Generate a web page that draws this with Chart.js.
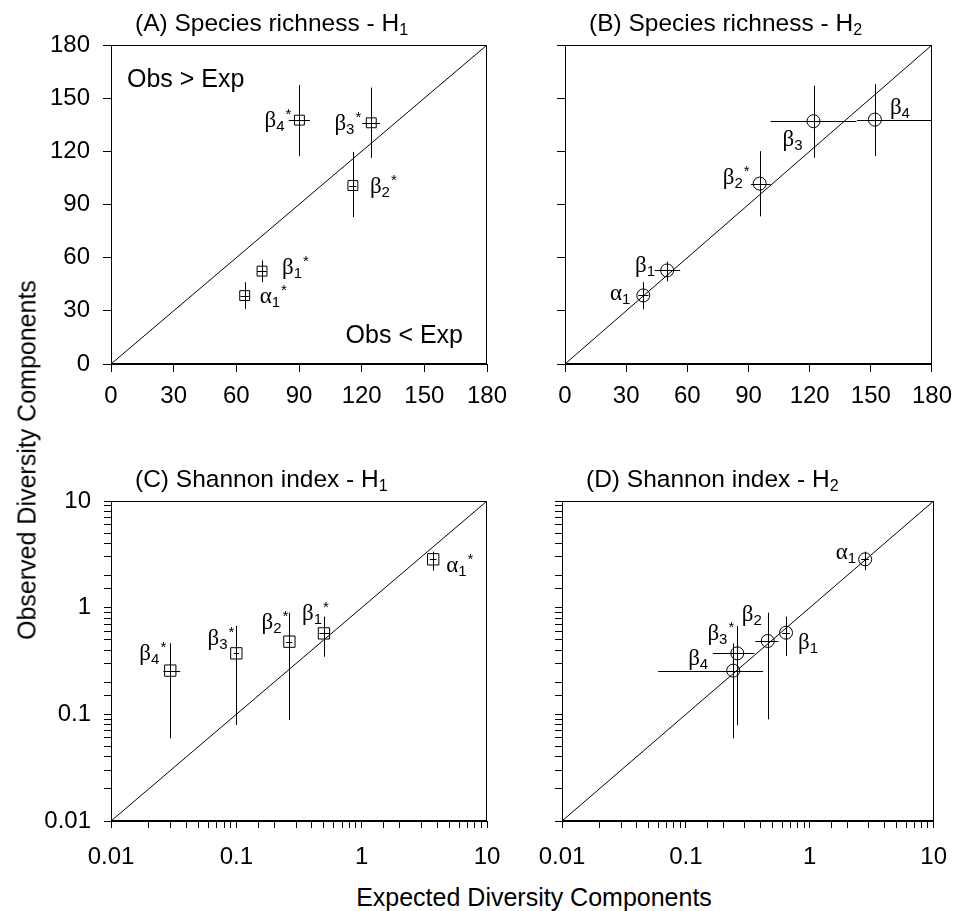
<!DOCTYPE html>
<html>
<head>
<meta charset="utf-8">
<script src="https://cdn.jsdelivr.net/npm/chart.js@4.4.1/dist/chart.umd.min.js"></script>
<style>
  body { margin: 0; background: #fff; }
  #page { position: relative; width: 962px; height: 911px; font-family: "Liberation Sans", Arial, sans-serif; color: #000; }
  canvas { position: absolute; }
  .axis-title { position: absolute; font-size: 25px; white-space: nowrap; }
  #ytitle { left: 27px; top: 460px; transform: translate(-50%, -50%) rotate(-90deg); }
  #xtitle { left: 534px; top: 897px; transform: translate(-50%, -50%); }
</style>
</head>
<body>
<div id="page">
  <canvas id="chartA" width="520" height="420" style="left:0;top:0"></canvas>
  <canvas id="chartB" width="482" height="420" style="left:480px;top:0"></canvas>
  <canvas id="chartC" width="520" height="460" style="left:0;top:420px"></canvas>
  <canvas id="chartD" width="482" height="460" style="left:480px;top:420px"></canvas>
  <div id="ytitle" class="axis-title">Observed Diversity Components</div>
  <div id="xtitle" class="axis-title">Expected Diversity Components</div>
</div>
<script>
// rótulos dos componentes (mesma ordem em todos os painéis)
const tagsA = ['α1*', 'β1*', 'β2*', 'β3*', 'β4*'];
const tagsB = ['α1', 'β1', 'β2*', 'β3', 'β4'];
const tagsC = ['α1*', 'β1*', 'β2*', 'β3*', 'β4*'];
const tagsD = ['α1', 'β1', 'β2', 'β3*', 'β4'];

// (A) riqueza de espécies - H1
const expA = [64, 72.3, 115.8, 124.6, 90.2];
const obsA = [38.6, 52.4, 100.7, 136.1, 137.6];
const expLoA = [62, 70, 114, 120.3, 85.1];
const expHiA = [66, 74.5, 117.5, 128.8, 95.2];
const obsLoA = [31.1, 46.2, 82.9, 116.3, 117.2];
const obsHiA = [46.2, 58.4, 119.7, 156, 157.4];

// (B) riqueza de espécies - H2
const expB = [38.4, 50.1, 95.5, 121.9, 152];
const obsB = [38.7, 52.8, 101.8, 137, 137.9];
const expLoB = [36, 44, 91.2, 100.8, 143.2];
const expHiB = [41, 56.5, 100.8, 142.9, 185];
const obsLoB = [30.9, 46.6, 83.3, 116.4, 117.3];
const obsHiB = [46.2, 57.8, 120.1, 157, 157.9];

// (C) índice de Shannon - H1
const expC = [3.72, 0.5, 0.265, 0.1, 0.0297];
const obsC = [2.84, 0.574, 0.48, 0.373, 0.257];
const expLoC = [3.5, 0.46, 0.25, 0.095, 0.0262];
const expHiC = [3.95, 0.56, 0.28, 0.105, 0.0356];
const obsLoC = [2.22, 0.347, 0.0885, 0.0794, 0.0596];
const obsHiC = [3.35, 0.824, 0.898, 0.673, 0.463];

// (D) índice de Shannon - H2
const expD = [2.8, 0.643, 0.458, 0.26, 0.241];
const obsD = [2.84, 0.583, 0.487, 0.373, 0.257];
const expLoD = [2.6, 0.6, 0.364, 0.165, 0.0597];
const expHiD = [3.0, 0.69, 0.556, 0.357, 0.42];
const obsLoD = [2.25, 0.352, 0.0898, 0.079, 0.0596];
const obsHiD = [3.35, 0.824, 0.898, 0.673, 0.463];

// linha 1:1
const diagLinear = [0, 180];
const diagLog = [0.01, 10];
const linearTicks = [0, 30, 60, 90, 120, 150, 180];

Chart.defaults.font.family = '"Liberation Sans", Arial, sans-serif';
Chart.defaults.font.size = 24;
Chart.defaults.color = '#000';

const SERIF = '"Liberation Serif", "DejaVu Serif", serif';
const SANS = '"Liberation Sans", Arial, sans-serif';

// desenha "β4*" com índice e asterisco
function drawTag(ctx, txt, x, y, align) {
  const base = txt[0];
  const sub = txt.replace(/[^0-9]/g, '');
  const star = txt.includes('*') ? '*' : '';
  ctx.font = '23px ' + SERIF;
  const wb = ctx.measureText(base).width;
  ctx.font = '15px ' + SANS;
  const ws = ctx.measureText(sub).width;
  const wst = ctx.measureText(star).width;
  const x0 = align === 'right' ? x - (wb + ws + wst) : x;
  ctx.textAlign = 'left';
  ctx.textBaseline = 'alphabetic';
  ctx.font = '23px ' + SERIF;
  ctx.fillText(base, x0, y + 7);
  ctx.font = '15px ' + SANS;
  ctx.fillText(sub, x0 + wb, y + 11);
  ctx.fillText(star, x0 + wb + ws + 1, y - 1);
}

function decadeLabel(v) {
  const l = Math.log10(v);
  return Math.abs(l - Math.round(l)) < 1e-9 ? String(v) : '';
}

function makePanel(id, cfg) {
  const isLog = cfg.log;
  const diag = isLog ? diagLog : diagLinear;

  const extras = {
    id: 'extras',
    beforeDatasetsDraw(chart) {
      const { ctx, chartArea: a, scales: { x, y } } = chart;
      ctx.save();
      ctx.beginPath();
      ctx.rect(a.left, a.top, a.width, a.height);
      ctx.clip();
      ctx.strokeStyle = '#000';
      ctx.lineWidth = 1;
      cfg.x.forEach((xv, i) => {
        const px = Math.round(x.getPixelForValue(xv)) + 0.5;
        const py = Math.round(y.getPixelForValue(cfg.y[i])) + 0.5;
        ctx.beginPath();
        ctx.moveTo(px, y.getPixelForValue(cfg.yLo[i]));
        ctx.lineTo(px, y.getPixelForValue(cfg.yHi[i]));
        ctx.moveTo(x.getPixelForValue(cfg.xLo[i]), py);
        ctx.lineTo(x.getPixelForValue(cfg.xHi[i]), py);
        ctx.stroke();
      });
      ctx.restore();
    },
    afterDraw(chart) {
      const { ctx, chartArea: a, scales: { x, y } } = chart;
      ctx.save();
      ctx.strokeStyle = '#000';
      ctx.lineWidth = 1;
      ctx.strokeRect(Math.round(a.left) + 0.5, Math.round(a.top) + 0.5,
        Math.round(a.width) - 1, Math.round(a.height) - 1);
      ctx.fillStyle = '#000';

      // título com subscrito
      ctx.font = '24.5px ' + SANS;
      ctx.textBaseline = 'alphabetic';
      ctx.textAlign = 'left';
      const tx = a.left + 24, ty = a.top - 14;
      ctx.fillText(cfg.title, tx, ty);
      const tw = ctx.measureText(cfg.title).width;
      ctx.font = '16px ' + SANS;
      ctx.fillText(cfg.titleSub, tx + tw, ty + 4);

      // rótulos dos pontos
      cfg.tags.forEach((t, i) => {
        const px = x.getPixelForValue(cfg.x[i]);
        const py = y.getPixelForValue(cfg.y[i]);
        const p = cfg.tagPos[i];
        drawTag(ctx, t, px + p[0], py + p[1], p[2]);
      });

      if (cfg.notes) {
        ctx.font = '25px ' + SANS;
        ctx.textBaseline = 'middle';
        ctx.textAlign = 'left';
        ctx.fillText('Obs > Exp', a.left + 16, a.top + 35);
        ctx.textAlign = 'right';
        ctx.fillText('Obs < Exp', a.right - 24, a.bottom - 28);
      }
      ctx.restore();
    }
  };

  const axisBase = (min, max) => ({
    type: isLog ? 'logarithmic' : 'linear',
    min, max,
    grid: { drawOnChartArea: false, drawTicks: true, tickLength: isLog ? 7 : 8, color: '#000', tickColor: '#000' },
    border: { display: true, color: '#000', width: 1 }
  });

  const xAxis = axisBase(diag[0], diag[1]);
  const yAxis = axisBase(diag[0], diag[1]);
  const tickOpts = isLog
    ? { autoSkip: false, maxRotation: 0, callback: decadeLabel }
    : { autoSkip: false, maxRotation: 0, stepSize: 30 };
  if (!isLog) {
    xAxis.afterBuildTicks = s => { s.ticks = linearTicks.map(v => ({ value: v })); };
    yAxis.afterBuildTicks = s => { s.ticks = linearTicks.map(v => ({ value: v })); };
  }
  xAxis.ticks = Object.assign({ padding: cfg.xPad }, tickOpts);
  yAxis.ticks = Object.assign({ padding: 13, display: cfg.yLabels }, tickOpts);
  xAxis.afterFit = s => { s.height = cfg.xh; };
  yAxis.afterFit = s => { s.width = cfg.yw; };

  new Chart(document.getElementById(id), {
    type: 'scatter',
    data: {
      datasets: [
        {
          data: [{ x: diag[0], y: diag[0] }, { x: diag[1], y: diag[1] }],
          showLine: true,
          pointRadius: 0,
          borderColor: '#000',
          borderWidth: 1
        },
        {
          data: cfg.x.map((v, i) => ({ x: v, y: cfg.y[i] })),
          pointStyle: cfg.marker,
          pointRadius: cfg.radius,
          backgroundColor: 'rgba(0,0,0,0)',
          borderColor: '#000',
          borderWidth: 1
        }
      ]
    },
    options: {
      responsive: false,
      animation: false,
      events: [],
      layout: { padding: cfg.pad },
      plugins: { legend: { display: false }, tooltip: { enabled: false } },
      scales: { x: xAxis, y: yAxis }
    },
    plugins: [extras]
  });
}

makePanel('chartA', {
  title: '(A) Species richness - H', titleSub: '1', notes: true,
  x: expA, y: obsA, xLo: expLoA, xHi: expHiA, yLo: obsLoA, yHi: obsHiA, tags: tagsA,
  tagPos: [[15, 0, 'left'], [20, -4, 'left'], [17, 0, 'left'], [-11, 0, 'right'], [-9, 0, 'right']],
  marker: 'rect', radius: 7, log: false, yLabels: true,
  pad: { top: 45, right: 33, left: 0, bottom: 0 }, yw: 111, xh: 56, xPad: 10
});

makePanel('chartB', {
  title: '(B) Species richness - H', titleSub: '2', notes: false,
  x: expB, y: obsB, xLo: expLoB, xHi: expHiB, yLo: obsLoB, yHi: obsHiB, tags: tagsB,
  tagPos: [[-13, -2, 'right'], [-12, -5, 'right'], [-11, -7, 'right'], [-11, 18, 'right'], [15, -13, 'left']],
  marker: 'circle', radius: 6.5, log: false, yLabels: false,
  pad: { top: 45, right: 22, left: 0, bottom: 0 }, yw: 85, xh: 56, xPad: 10
});

makePanel('chartC', {
  title: '(C) Shannon index - H', titleSub: '1', notes: false,
  x: expC, y: obsC, xLo: expLoC, xHi: expHiC, yLo: obsLoC, yHi: obsHiC, tags: tagsC,
  tagPos: [[13, 6, 'left'], [4, -20, 'right'], [-2, -20, 'right'], [-3, -15, 'right'], [-5, -18, 'right']],
  marker: 'rect', radius: 8, log: true, yLabels: true,
  pad: { top: 81, right: 33, left: 0, bottom: 0 }, yw: 111, xh: 59, xPad: 15
});

makePanel('chartD', {
  title: '(D) Shannon index - H', titleSub: '2', notes: false,
  x: expD, y: obsD, xLo: expLoD, xHi: expHiD, yLo: obsLoD, yHi: obsHiD, tags: tagsD,
  tagPos: [[-9, -7, 'right'], [12, 9, 'left'], [-6, -27, 'right'], [-4, -20, 'right'], [-25, -13, 'right']],
  marker: 'circle', radius: 6.5, log: true, yLabels: false,
  pad: { top: 81, right: 20, left: 0, bottom: 0 }, yw: 82, xh: 59, xPad: 15
});
</script>
</body>
</html>
